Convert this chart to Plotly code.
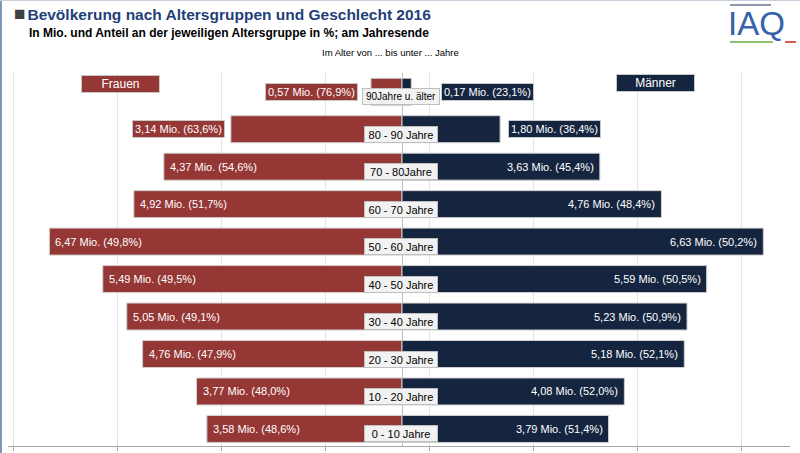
import plotly.graph_objects as go

# ---------------- data ----------------
categories = ["0 - 10 Jahre", "10 - 20 Jahre", "20 - 30 Jahre", "30 - 40 Jahre", "40 - 50 Jahre",
              "50 - 60 Jahre", "60 - 70 Jahre", "70 - 80Jahre", "80 - 90 Jahre", "90Jahre u. älter"]
frauen_mio = [3.58, 3.77, 4.76, 5.05, 5.49, 6.47, 4.92, 4.37, 3.14, 0.57]
frauen_pct = [48.6, 48.0, 47.9, 49.1, 49.5, 49.8, 51.7, 54.6, 63.6, 76.9]
maenner_mio = [3.79, 4.08, 5.18, 5.23, 5.59, 6.63, 4.76, 3.63, 1.80, 0.17]
maenner_pct = [51.4, 52.0, 52.1, 50.9, 50.5, 50.2, 48.4, 45.4, 36.4, 23.1]

title = "Bevölkerung nach Altersgruppen und Geschlecht 2016"
subtitle = "In Mio. und Anteil an der jeweiligen Altersgruppe in %; am Jahresende"
axis_note = "Im Alter von ... bis unter ... Jahre"

# ---------------- layout constants ----------------
W, H = 800, 453
PL, PR, PT, PB = 8, 790, 73, 446      # plot area in pixels
CX = 402                               # pixel of zero
S = 54.5                               # pixels per Mio
RED = "#953735"
NAVY = "#15253f"
FONT = "Liberation Sans, Arial, sans-serif"

def px(x):
    return (x - PL) / (PR - PL)

def py(y):
    return (PB - y) / (PB - PT)

def fmt(v, p):
    return f"{v:.2f}".replace(".", ",") + " Mio. (" + f"{p:.1f}".replace(".", ",") + "%)"

fig = go.Figure()
fig.add_trace(go.Bar(y=categories, x=[-v for v in frauen_mio], orientation="h", name="Frauen",
                     marker=dict(color=RED, line=dict(color="#d0d0d0", width=1)), width=0.72,
                     hoverinfo="skip"))
fig.add_trace(go.Bar(y=categories, x=maenner_mio, orientation="h", name="Männer",
                     marker=dict(color=NAVY, line=dict(color="#d0d0d0", width=1)), width=0.72,
                     hoverinfo="skip"))

ann = []
THRESH = 3.4
for c, fv, fp, mv, mp in zip(categories, frauen_mio, frauen_pct, maenner_mio, maenner_pct):
    # women
    if fv >= THRESH:
        ann.append(dict(x=-fv, y=c, text=fmt(fv, fp), xanchor="left", xshift=4, showarrow=False,
                        font=dict(color="white", size=11, family=FONT)))
    else:
        shift = max(fv * S + 6, 44)
        ann.append(dict(x=0, y=c, text=fmt(fv, fp), xanchor="right", xshift=-shift, showarrow=False,
                        bgcolor=RED, bordercolor="#c8c8c8", borderwidth=1, borderpad=2,
                        font=dict(color="white", size=11, family=FONT)))
    # men
    if mv >= THRESH:
        ann.append(dict(x=mv, y=c, text=fmt(mv, mp), xanchor="right", xshift=-4, showarrow=False,
                        font=dict(color="white", size=11, family=FONT)))
    else:
        shift = max(mv * S + 8, 39)
        ann.append(dict(x=0, y=c, text=fmt(mv, mp), xanchor="left", xshift=shift, showarrow=False,
                        bgcolor=NAVY, bordercolor="#c8c8c8", borderwidth=1, borderpad=2,
                        font=dict(color="white", size=11, family=FONT)))
    # category label
    long_lab = len(c) > 14
    ann.append(dict(x=0, y=c, text=c, xanchor="center", yshift=-5, xshift=-1, showarrow=False,
                    bgcolor="#f2f2f2", bordercolor="#bfbfbf", borderwidth=1, borderpad=1,
                    width=74 if long_lab else 70, height=13,
                    font=dict(color="black", size=10 if long_lab else 11, family=FONT)))

# legend boxes
ann.append(dict(xref="paper", yref="paper", x=px(120.5), y=py(84), xanchor="center", yanchor="middle",
                text="Frauen", showarrow=False,
                bgcolor=RED, bordercolor="#c8c8c8", borderwidth=1, borderpad=1, width=75, height=14,
                font=dict(color="white", size=12, family=FONT)))
ann.append(dict(xref="paper", yref="paper", x=px(655), y=py(82.5), xanchor="center", yanchor="middle",
                text="Männer", showarrow=False,
                bgcolor=NAVY, bordercolor="#c8c8c8", borderwidth=1, borderpad=1, width=75, height=14,
                font=dict(color="white", size=12, family=FONT)))

# titles
ann.append(dict(xref="paper", yref="paper", x=px(12), y=py(14), xanchor="left", yanchor="middle",
                text="<span style='color:#404040;font-size:19px'>■</span><span style='font-size:7px'> </span>" + title,
                showarrow=False,
                font=dict(color="#1f3f7a", size=15.5, family="Liberation Sans, Arial", weight="bold")))
ann.append(dict(xref="paper", yref="paper", x=px(27), y=py(33), xanchor="left", yanchor="middle",
                text=subtitle, showarrow=False,
                font=dict(color="black", size=12, family="Liberation Sans, Arial", weight="bold")))
ann.append(dict(xref="paper", yref="paper", x=px(390), y=py(53), xanchor="center", yanchor="middle",
                text=axis_note, showarrow=False,
                font=dict(color="black", size=9.5, family=FONT)))
# logo
ann.append(dict(xref="paper", yref="paper", x=px(756), y=py(24), xanchor="center", yanchor="middle",
                text="IAQ", showarrow=False,
                font=dict(color="#3562a8", size=33, family=FONT)))

shapes = [
    dict(type="line", xref="paper", yref="paper", x0=px(730), x1=px(771), y0=py(5), y1=py(5),
         line=dict(color="#8c98a8", width=2)),
    dict(type="line", xref="paper", yref="paper", x0=px(730), x1=px(773), y0=py(42), y1=py(42),
         line=dict(color="#8dc26f", width=2)),
    dict(type="line", xref="paper", yref="paper", x0=px(785), x1=px(796), y0=py(42), y1=py(42),
         line=dict(color="#e05a5a", width=2)),
    dict(type="line", xref="paper", yref="paper", x0=px(1), x1=px(1), y0=py(0), y1=py(453),
         line=dict(color="#7f97b8", width=2)),
    dict(type="line", xref="paper", yref="paper", x0=px(0), x1=px(800), y0=py(0.5), y1=py(0.5),
         line=dict(color="#c5d0dc", width=1)),
]

fig.update_layout(
    width=W, height=H,
    margin=dict(l=PL, r=W - PR, t=PT, b=H - PB, pad=0, autoexpand=False),
    paper_bgcolor="white", plot_bgcolor="white",
    barmode="overlay", showlegend=False,
    annotations=ann, shapes=shapes,
    xaxis=dict(range=[-(CX - PL) / S, (PR - CX) / S], tickmode="linear",
               tick0=(429 - CX) / S, dtick=104 / S, showticklabels=False,
               showgrid=True, gridcolor="#e4e4e4", gridwidth=1,
               zeroline=True, zerolinecolor="#bdbdbd", zerolinewidth=1,
               showline=True, linecolor="#a6a6a6", linewidth=1,
               ticks="outside", ticklen=4, tickcolor="#a6a6a6", fixedrange=True,
               automargin=False),
    yaxis=dict(categoryorder="array", categoryarray=categories,
               range=[-0.455, 9.5], showticklabels=False, showgrid=False,
               zeroline=False, showline=False, fixedrange=True, automargin=False),
)

fig.write_html("out.html", config={"displayModeBar": False},
               post_script="document.body.style.margin='0';document.body.style.overflow='hidden';")
